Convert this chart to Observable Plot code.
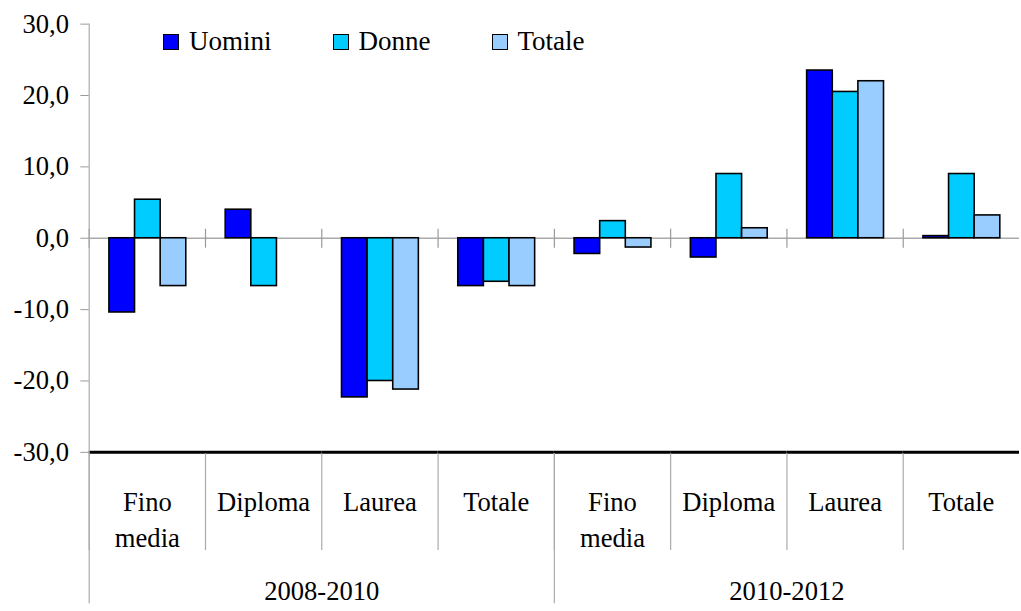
<!DOCTYPE html>
<html>
<head>
<meta charset="utf-8">
<script src="https://cdn.jsdelivr.net/npm/d3@7"></script>
<script src="https://cdn.jsdelivr.net/npm/@observablehq/plot@0.6"></script>
<style>
  html, body { margin: 0; padding: 0; background: #fff; }
  #wrap { position: relative; width: 1021px; height: 611px; overflow: hidden; background: #fff; }
  #legend { position: absolute; left: 163px; top: 26px; display: flex; gap: 61px;
            font-family: 'Liberation Serif', 'Times New Roman', serif; font-size: 27px; color: #000; }
  #legend .item { display: flex; align-items: center; }
  #legend .sw { width: 14px; height: 14px; border: 1.5px solid #000; margin-right: 10px; }
</style>
</head>
<body>
<div id="wrap"><div id="chart"></div><div id="legend"></div></div>
<script>
// ---- data ----
const periods = ["2008-2010", "2010-2012"];
const categories = ["Fino media", "Diploma", "Laurea", "Totale"];
const categoryLabels = ["Fino\nmedia", "Diploma", "Laurea", "Totale"];
const series = ["Uomini", "Donne", "Totale"];
const seriesColors = ["#0000FF", "#00CCFF", "#99CCFF"];
// values in group order: 2008-2010 (Fino media, Diploma, Laurea, Totale), 2010-2012 (same)
const uomini = [-10.4, 4.0, -22.3, -6.7, -2.2, -2.7, 23.5, 0.3];
const donne  = [5.4, -6.7, -20.0, -6.1, 2.4, 9.0, 20.5, 9.0];
const totale = [-6.7, null, -21.2, -6.7, -1.3, 1.4, 22.0, 3.2];
const yTicks = [-30, -20, -10, 0, 10, 20, 30];

// ---- tables built from the arrays ----
const groups = periods.flatMap(p => categories.map((c, i) => ({key: p + "|" + c, period: p, label: categoryLabels[i]})));
const keys = groups.map(g => g.key);
const valuesBySeries = [uomini, donne, totale];
const rows = [];
groups.forEach((g, gi) => series.forEach((s, si) => {
  const v = valuesBySeries[si][gi];
  if (v != null) rows.push({key: g.key, series: s, value: v});
}));
const mid = categories[categories.length / 2];
const periodRows = periods.map(p => ({period: p, key: p + "|" + mid}));
const periodStarts = periods.slice(1).map(p => ({key: p + "|" + categories[0]}));
const fmt = d => d.toFixed(1).replace(".", ",");

const chart = Plot.plot({
  width: 1036,
  height: 611,
  marginLeft: 87.5,
  marginRight: 0,
  marginTop: 24,
  marginBottom: 152.5,
  style: {fontFamily: "'Liberation Serif', 'Times New Roman', serif", fontSize: "27px", color: "black", background: "white", overflow: "visible"},
  fx: {domain: keys, padding: 0, axis: null, label: null},
  x: {domain: series, paddingInner: 0, paddingOuter: 0.736, axis: null, label: null},
  y: {domain: [-30, 30], label: null},
  color: {domain: series, range: seriesColors},
  marks: [
    Plot.ruleY([0], {stroke: "#aaa", strokeWidth: 1.5}),
    Plot.frame({anchor: "left", stroke: "#999", strokeWidth: 1.2, insetTop: 208.25, insetBottom: 208.25}),
    Plot.barY(rows, {fx: "key", x: "series", y: "value", fill: "series", stroke: "black", strokeWidth: 1.6}),
    Plot.ruleY([-30], {stroke: "black", strokeWidth: 3}),
    Plot.frame({anchor: "left", stroke: "#aaa", strokeWidth: 1.2, insetTop: 436, insetBottom: -98.5}),
    Plot.frame({anchor: "left", stroke: "#aaa", strokeWidth: 1.2, insetBottom: -152.5, facetAnchor: "left"}),
    Plot.frame({anchor: "left", stroke: "#aaa", strokeWidth: 1.2, insetTop: 436, insetBottom: -152.5, fx: () => periodStarts[0].key}),
    Plot.axisY({ticks: yTicks, tickFormat: fmt, tickSize: 8.5, tickPadding: 12, stroke: "#999", fill: "black", label: null}),
    Plot.text(groups, {fx: "key", text: "label", frameAnchor: "bottom", lineAnchor: "top", dy: 34.5, lineHeight: 1.33, fill: "black"}),
    Plot.text(periodRows, {fx: "key", text: "period", frameAnchor: "bottom-left", textAnchor: "middle", lineAnchor: "top", dy: 131, fill: "black"})
  ]
});
document.getElementById("chart").appendChild(chart);

const legend = document.getElementById("legend");
series.forEach((s, i) => {
  const item = document.createElement("div");
  item.className = "item";
  const sw = document.createElement("div");
  sw.className = "sw";
  sw.style.background = seriesColors[i];
  const t = document.createElement("span");
  t.textContent = s;
  item.appendChild(sw); item.appendChild(t);
  legend.appendChild(item);
});
</script>
</body>
</html>
